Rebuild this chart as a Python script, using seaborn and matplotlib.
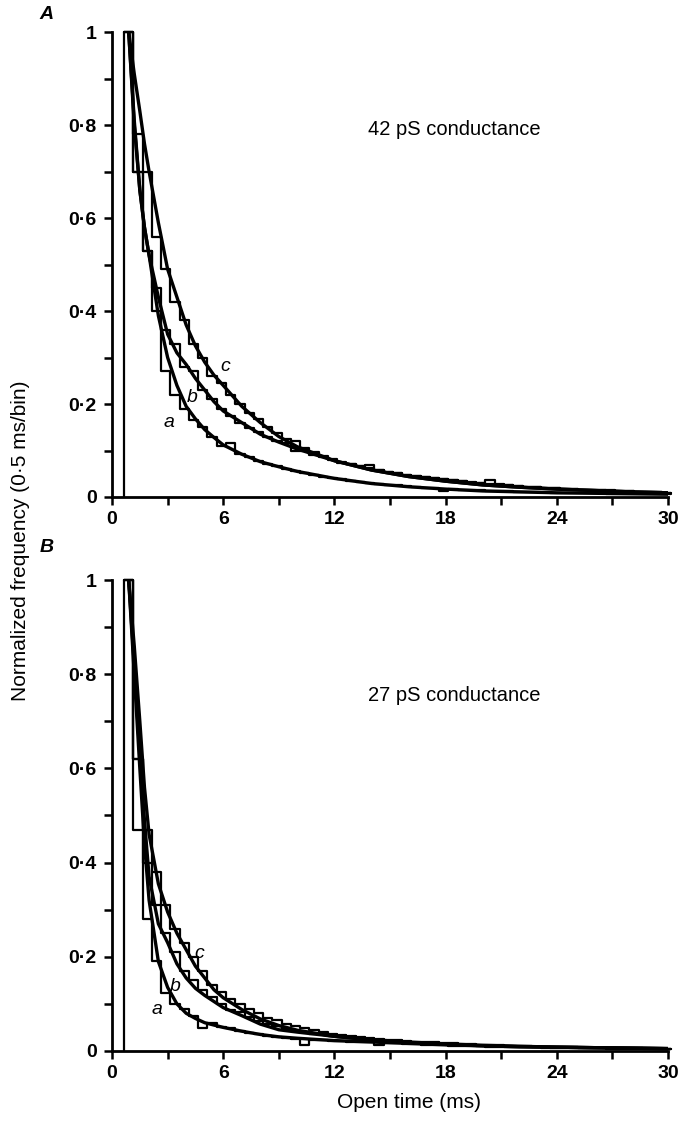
import numpy as np
import pandas as pd
import matplotlib
matplotlib.use("Agg")
import matplotlib.pyplot as plt
import seaborn as sns

# open-time histograms, 0.5 ms bins, first bin edge at 0.65 ms
bin_start = 0.65
bin_width = 0.5

# panel A : 42 pS conductance
A_hist_a = [1.00, 0.70, 0.53, 0.40, 0.27, 0.22, 0.19, 0.165, 0.15, 0.13,
            0.11, 0.116, 0.092, 0.085, 0.078, 0.070, 0.066, 0.060, 0.056, 0.052,
            0.047, 0.043, 0.040, 0.038, 0.035, 0.032, 0.030, 0.028, 0.026, 0.025,
            0.023, 0.022, 0.020, 0.019, 0.012, 0.017, 0.016, 0.015, 0.014, 0.013,
            0.013, 0.012, 0.011, 0.011, 0.010, 0.010, 0.009, 0.009, 0.009, 0.008,
            0.008, 0.008, 0.007, 0.007, 0.007, 0.006, 0.006, 0.006, 0.006]
A_hist_b = [1.00, 0.70, 0.53, 0.45, 0.36, 0.33, 0.28, 0.27, 0.23, 0.21,
            0.19, 0.175, 0.16, 0.148, 0.14, 0.128, 0.12, 0.116, 0.098, 0.098,
            0.090, 0.086, 0.080, 0.074, 0.070, 0.066, 0.062, 0.058, 0.054, 0.051,
            0.048, 0.045, 0.043, 0.040, 0.038, 0.036, 0.034, 0.030, 0.030, 0.028,
            0.026, 0.025, 0.024, 0.022, 0.021, 0.020, 0.019, 0.018, 0.017, 0.016,
            0.015, 0.014, 0.013, 0.013, 0.012, 0.011, 0.010, 0.010, 0.009]
A_hist_c = [1.00, 0.78, 0.70, 0.56, 0.49, 0.42, 0.38, 0.33, 0.30, 0.26,
            0.245, 0.22, 0.20, 0.18, 0.168, 0.15, 0.138, 0.125, 0.12, 0.106,
            0.096, 0.088, 0.082, 0.076, 0.071, 0.066, 0.069, 0.058, 0.054, 0.051,
            0.048, 0.045, 0.043, 0.040, 0.038, 0.036, 0.034, 0.032, 0.030, 0.037,
            0.027, 0.025, 0.024, 0.022, 0.021, 0.020, 0.019, 0.018, 0.017, 0.016,
            0.015, 0.014, 0.015, 0.013, 0.012, 0.011, 0.011, 0.010, 0.009]

# panel B : 27 pS conductance
B_hist_a = [1.00, 0.47, 0.28, 0.19, 0.123, 0.10, 0.09, 0.075, 0.049, 0.06,
            0.05, 0.048, 0.042, 0.038, 0.036, 0.032, 0.030, 0.028, 0.026, 0.012,
            0.024, 0.023, 0.022, 0.021, 0.020, 0.019, 0.018, 0.012, 0.017, 0.016,
            0.015, 0.014, 0.013, 0.013, 0.012, 0.011, 0.011, 0.010, 0.010, 0.009,
            0.009, 0.009, 0.008, 0.008, 0.008, 0.007, 0.007, 0.007, 0.006, 0.006,
            0.006, 0.006, 0.005, 0.005, 0.005, 0.005, 0.005, 0.004, 0.004]
B_hist_b = [1.00, 0.62, 0.40, 0.31, 0.25, 0.21, 0.17, 0.15, 0.13, 0.115,
            0.10, 0.088, 0.082, 0.072, 0.064, 0.058, 0.052, 0.047, 0.043, 0.040,
            0.037, 0.035, 0.032, 0.030, 0.028, 0.026, 0.024, 0.022, 0.021, 0.019,
            0.018, 0.017, 0.016, 0.015, 0.014, 0.013, 0.012, 0.012, 0.011, 0.010,
            0.010, 0.009, 0.009, 0.008, 0.008, 0.008, 0.007, 0.007, 0.007, 0.006,
            0.006, 0.006, 0.006, 0.005, 0.005, 0.005, 0.005, 0.005, 0.004]
B_hist_c = [1.00, 0.62, 0.47, 0.38, 0.31, 0.26, 0.23, 0.20, 0.17, 0.14,
            0.125, 0.11, 0.10, 0.09, 0.08, 0.07, 0.065, 0.058, 0.053, 0.048,
            0.044, 0.040, 0.036, 0.033, 0.031, 0.030, 0.028, 0.026, 0.024, 0.023,
            0.021, 0.020, 0.019, 0.018, 0.017, 0.016, 0.015, 0.014, 0.013, 0.012,
            0.012, 0.011, 0.010, 0.010, 0.009, 0.009, 0.008, 0.008, 0.008, 0.007,
            0.007, 0.007, 0.006, 0.006, 0.006, 0.006, 0.005, 0.005, 0.005]

# fitted curves, sampled off the figure
fit_t = [0.9, 1.2, 1.5, 1.75, 2.0, 2.5, 3.0, 3.5, 4.0, 4.5, 5.0, 5.5, 6.0, 7.0,
         8.0, 9.0, 10.0, 12.0, 14.0, 16.0, 18.0, 20.0, 22.0, 24.0, 26.0, 28.0, 30.0]
A_fit_a = [1.0, 0.80, 0.66, 0.58, 0.52, 0.39, 0.30, 0.24, 0.195, 0.168, 0.145, 0.128,
           0.112, 0.092, 0.076, 0.065, 0.055, 0.040, 0.029, 0.022, 0.017, 0.013,
           0.011, 0.009, 0.008, 0.007, 0.006]
A_fit_b = [1.0, 0.81, 0.66, 0.58, 0.52, 0.43, 0.35, 0.31, 0.285, 0.255, 0.23, 0.205,
           0.185, 0.16, 0.135, 0.118, 0.103, 0.078, 0.058, 0.044, 0.034, 0.026,
           0.021, 0.017, 0.014, 0.011, 0.009]
A_fit_c = [1.0, 0.91, 0.83, 0.76, 0.70, 0.59, 0.49, 0.43, 0.37, 0.325, 0.29, 0.262,
           0.24, 0.195, 0.16, 0.13, 0.108, 0.078, 0.058, 0.044, 0.034, 0.026,
           0.021, 0.017, 0.014, 0.011, 0.009]
B_fit_a = [1.0, 0.80, 0.60, 0.44, 0.32, 0.19, 0.135, 0.10, 0.08, 0.069, 0.06, 0.055,
           0.05, 0.042, 0.035, 0.030, 0.027, 0.022, 0.019, 0.016, 0.013, 0.011,
           0.009, 0.008, 0.007, 0.006, 0.005]
B_fit_b = [1.0, 0.82, 0.63, 0.49, 0.37, 0.27, 0.23, 0.185, 0.155, 0.133, 0.118, 0.105,
           0.092, 0.075, 0.057, 0.045, 0.040, 0.031, 0.024, 0.019, 0.015, 0.012,
           0.010, 0.008, 0.007, 0.006, 0.005]
B_fit_c = [1.0, 0.86, 0.70, 0.56, 0.46, 0.355, 0.295, 0.25, 0.215, 0.18, 0.155, 0.13,
           0.113, 0.088, 0.068, 0.054, 0.044, 0.031, 0.023, 0.018, 0.014, 0.011,
           0.009, 0.008, 0.007, 0.006, 0.005]

curve_labels = ["a", "b", "c"]
A_label_pos = [(3.1, 0.16), (4.3, 0.215), (6.1, 0.28)]
B_label_pos = [(2.4, 0.087), (3.4, 0.136), (4.7, 0.208)]

sns.set_theme(style="ticks")
plt.rcParams['font.family'] = ['Liberation Sans', 'DejaVu Sans']
plt.rcParams['text.color'] = 'black'
plt.rcParams['axes.labelcolor'] = 'black'

fig = plt.figure(figsize=(6.81, 11.28), dpi=100)
ax_a = fig.add_axes([0.1645, 0.5594, 0.8165, 0.4122])
ax_b = fig.add_axes([0.1645, 0.0683, 0.8165, 0.4175])

panels = [
    (ax_a, [A_hist_a, A_hist_b, A_hist_c], [A_fit_a, A_fit_b, A_fit_c], A_label_pos,
     "42 pS conductance", 0.79, "A", 1.037),
    (ax_b, [B_hist_a, B_hist_b, B_hist_c], [B_fit_a, B_fit_b, B_fit_c], B_label_pos,
     "27 pS conductance", 0.755, "B", 1.068),
]

for ax, hists, fits, lab_pos, title, title_y, letter, letter_y in panels:
    n = len(hists[0])
    edges = bin_start + bin_width * np.arange(n + 1)
    centers = edges[:-1] + bin_width / 2
    for h in hists:
        df = pd.DataFrame({"t": centers, "w": h})
        sns.histplot(data=df, x="t", weights="w", bins=list(edges), element="step",
                     fill=False, color="black", linewidth=1.6, ax=ax, clip_on=False)
    ax.vlines(edges[0], 0, hists[0][0], color="black", linewidth=1.6)
    for f in fits:
        sns.lineplot(x=fit_t, y=f, color="black", linewidth=2.4, ax=ax,
                     estimator=None, sort=False)
    for lab, (lx, ly) in zip(curve_labels, lab_pos):
        ax.text(lx, ly, lab, fontsize=14, style="italic", ha="center", va="center")
    ax.text(13.8, title_y, title, fontsize=14.5, ha="left", va="center")

    ax.set_xlim(0, 30)
    ax.set_ylim(0, 1)
    ax.set_xticks(np.arange(0, 31, 6))
    ax.set_xticks(np.arange(3, 30, 6), minor=True)
    ax.set_yticks([0, 0.2, 0.4, 0.6, 0.8, 1.0])
    ax.set_yticklabels(["0", "0·2", "0·4", "0·6", "0·8", "1"])
    ax.set_yticks(np.arange(0.1, 1.0, 0.2), minor=True)
    ax.tick_params(which="both", direction="out", length=6, width=1.8, colors="black")
    ax.tick_params(axis="y", pad=5)
    ax.tick_params(axis="x", pad=4)
    for lbl in ax.get_xticklabels() + ax.get_yticklabels():
        lbl.set_fontweight("bold")
        lbl.set_fontsize(14)
    ax.set_xlabel("")
    ax.set_ylabel("")
    sns.despine(ax=ax)
    for sp in ["left", "bottom"]:
        ax.spines[sp].set_linewidth(2)
        ax.spines[sp].set_color("black")
    ax.text(-0.118, letter_y, letter, transform=ax.transAxes, fontsize=14,
            style="italic", fontweight="bold", ha="center", va="center")

fig.text(0.60, 0.023, "Open time (ms)", fontsize=15, ha="center", va="center")
fig.text(0.03, 0.521, "Normalized frequency (0·5 ms/bin)", rotation=90,
         fontsize=15, ha="center", va="center")

fig.savefig("out.png", dpi=100, facecolor="white")
